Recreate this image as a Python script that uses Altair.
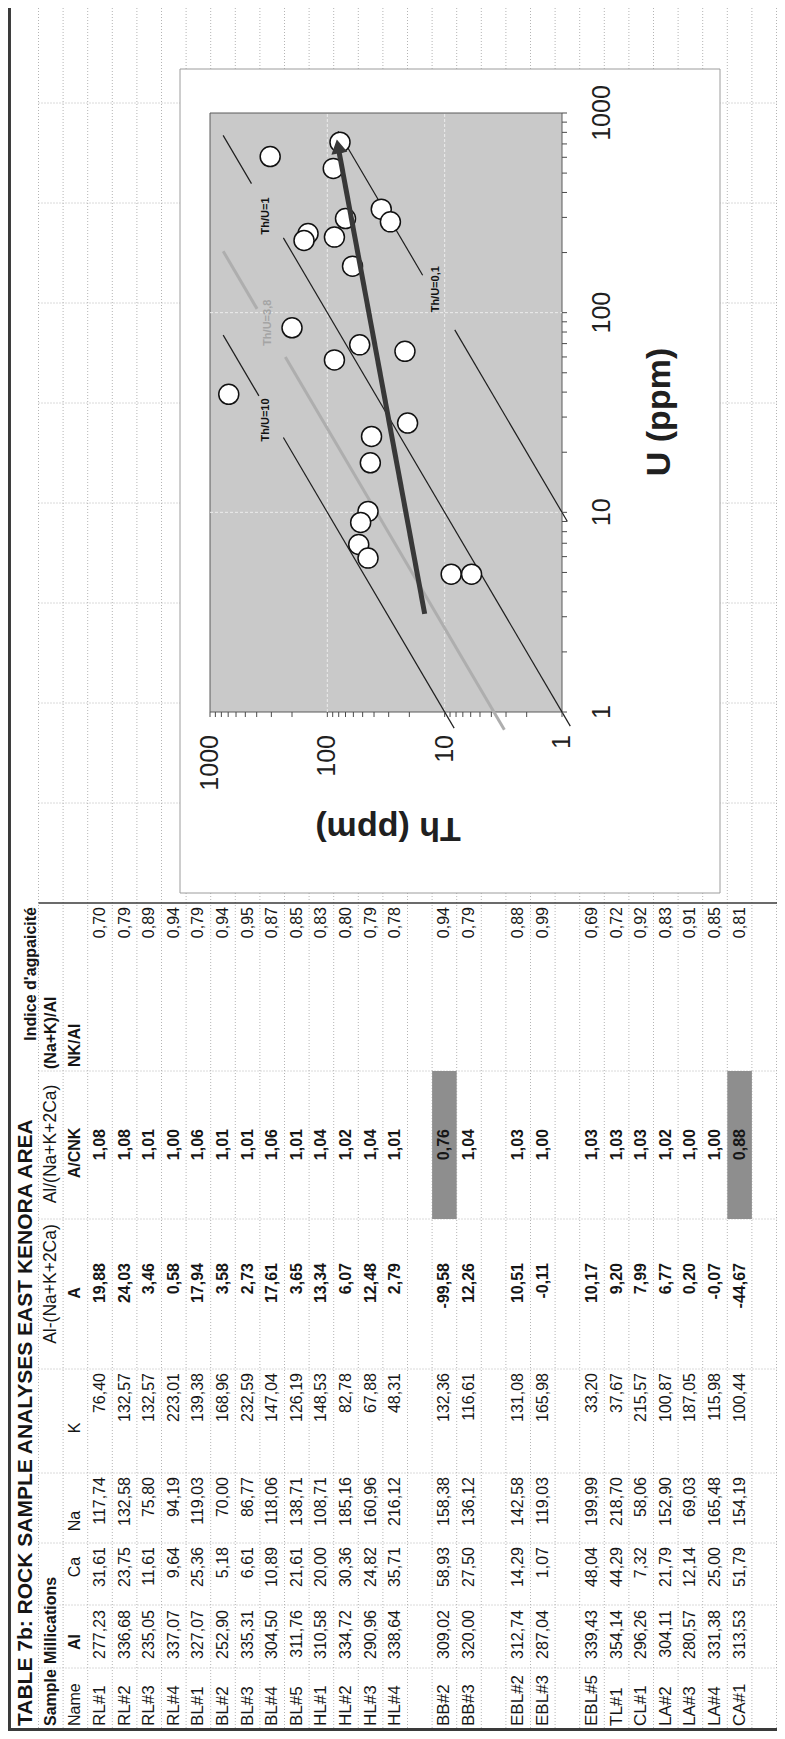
import altair as alt
import pandas as pd

# ---------------- data ----------------
table_title = "TABLE 7b: ROCK SAMPLE ANALYSES EAST KENORA AREA"
index_title = "Indice d'agpaicité"
header_top = ["Sample", "Millications", "Al-(Na+K+2Ca)", "Al/(Na+K+2Ca)", "(Na+K)/Al"]
header_sub = ["Name", "Al", "Ca", "Na", "K", "A", "A/CNK", "NK/Al"]

samples = ["RL#1", "RL#2", "RL#3", "RL#4", "BL#1", "BL#2", "BL#3", "BL#4", "BL#5",
           "HL#1", "HL#2", "HL#3", "HL#4", "", "BB#2", "BB#3", "", "EBL#2", "EBL#3", "",
           "EBL#5", "TL#1", "CL#1", "LA#2", "LA#3", "LA#4", "CA#1"]
al = [277.23, 336.68, 235.05, 337.07, 327.07, 252.90, 335.31, 304.50, 311.76,
      310.58, 334.72, 290.96, 338.64, None, 309.02, 320.00, None, 312.74, 287.04, None,
      339.43, 354.14, 296.26, 304.11, 280.57, 331.38, 313.53]
ca = [31.61, 23.75, 11.61, 9.64, 25.36, 5.18, 6.61, 10.89, 21.61,
      20.00, 30.36, 24.82, 35.71, None, 58.93, 27.50, None, 14.29, 1.07, None,
      48.04, 44.29, 7.32, 21.79, 12.14, 25.00, 51.79]
na = [117.74, 132.58, 75.80, 94.19, 119.03, 70.00, 86.77, 118.06, 138.71,
      108.71, 185.16, 160.96, 216.12, None, 158.38, 136.12, None, 142.58, 119.03, None,
      199.99, 218.70, 58.06, 152.90, 69.03, 165.48, 154.19]
k = [76.40, 132.57, 132.57, 223.01, 139.38, 168.96, 232.59, 147.04, 126.19,
     148.53, 82.78, 67.88, 48.31, None, 132.36, 116.61, None, 131.08, 165.98, None,
     33.20, 37.67, 215.57, 100.87, 187.05, 115.98, 100.44]
a_index = [19.88, 24.03, 3.46, 0.58, 17.94, 3.58, 2.73, 17.61, 3.65,
           13.34, 6.07, 12.48, 2.79, None, -99.58, 12.26, None, 10.51, -0.11, None,
           10.17, 9.20, 7.99, 6.77, 0.20, -0.07, -44.67]
a_cnk = [1.08, 1.08, 1.01, 1.00, 1.06, 1.01, 1.01, 1.06, 1.01,
         1.04, 1.02, 1.04, 1.01, None, 0.76, 1.04, None, 1.03, 1.00, None,
         1.03, 1.03, 1.03, 1.02, 1.00, 1.00, 0.88]
nk_al = [0.70, 0.79, 0.89, 0.94, 0.79, 0.94, 0.95, 0.87, 0.85,
         0.83, 0.80, 0.79, 0.78, None, 0.94, 0.79, None, 0.88, 0.99, None,
         0.69, 0.72, 0.92, 0.83, 0.91, 0.85, 0.81]

# Th-U diagram
th_ppm = [307, 78, 89, 34.7, 29, 70, 146, 158, 87, 61, 200, 53, 21.8, 87, 692,
          20.7, 42, 43, 45, 52, 54, 45, 8.8, 5.9]
u_ppm = [605, 714, 528, 330, 285, 296, 249, 230, 239, 171, 84, 69, 64, 58, 39,
         28, 24, 17.7, 10.1, 8.9, 6.9, 5.9, 4.9, 4.9]
arrow_th = [14.8, 81]
arrow_u = [3.1, 680]
ratio_seg = [10, 10, 3.8, 3.8, 1, 1, 0.1, 0.1]
ratio_th_from = [772, 237, 772, 228, 773, 237, 81, 8.2]
ratio_th_to = [383, 8.3, 397, 3.1, 443, 0.85, 15.4, 0.9]
ratio_labels = ["Th/U=10", "Th/U=3,8", "Th/U=1", "Th/U=0,1"]
ratio_label_th = [330, 318, 330, 11.9]
ratio_label_u = [29, 89, 305, 131]
decades = [1, 10, 100, 1000]
decade_labels = ["1", "10", "100", "1000"]
x_title = "Th (ppm)"
y_title = "U (ppm)"

# ---------------- layout (page pixels) ----------------
W, H = 769, 1723
OFF = 8
ROW0, PITCH = 100.0, 24.6
PX0, PX1, PY0, PY1 = 210, 562, 113, 712
SANS = "Liberation Sans, Arial, sans-serif"

row_scale = alt.Scale(domain=[(OFF - ROW0) / PITCH, (OFF + W - ROW0) / PITCH], range=[0, W])
py_scale = alt.Scale(domain=[OFF, OFF + H], range=[0, H])
th_scale = alt.Scale(type="log", domain=[1, 1000], range=[PX1 - OFF, PX0 - OFF])
u_scale = alt.Scale(type="log", domain=[1, 1000], range=[PY1 - OFF, PY0 - OFF])

R_END = (OFF + W - ROW0) / PITCH
R_START = (OFF - ROW0) / PITCH


def RX(f):
    return alt.X(f, type="quantitative", scale=row_scale, axis=None)


def PY(f):
    return alt.Y(f, type="quantitative", scale=py_scale, axis=None)


def TX(f):
    return alt.X(f, type="quantitative", scale=th_scale, axis=None)


def UY(f):
    return alt.Y(f, type="quantitative", scale=u_scale, axis=None)


# ---------------- spreadsheet grid ----------------
row_bounds = pd.DataFrame({"r": [-2.5 + i for i in range(31)], "y0": OFF, "y1": OFF + H})
col_bounds = pd.DataFrame({"py": [103, 203, 303, 403, 503, 603, 703, 803, 1071, 1219,
                                  1369, 1473, 1543, 1605, 1668],
                           "r0": -2.5, "r1": R_END})
grid_v = alt.Chart(row_bounds).mark_rule(color="#b4b4b4", strokeDash=[1, 2], strokeWidth=1).encode(
    x=RX("r"), y=PY("y0"), y2="y1")
grid_h = alt.Chart(col_bounds).mark_rule(color="#b4b4b4", strokeDash=[1, 2], strokeWidth=1).encode(
    y=PY("py"), x=RX("r0"), x2="r1")

borders = pd.DataFrame({"kind": ["left", "bottom", "top"],
                        "r0": [R_START + 0.06, R_START, -2.5],
                        "r1": [R_START + 0.06, R_END, R_END],
                        "p0": [OFF, 1729.5, 903],
                        "p1": [OFF + H, 1729.5, 903],
                        "w": [3, 3, 1.5]})
border_rules = alt.Chart(borders).mark_rule(color="#3a3a3a").encode(
    x=RX("r0"), x2="r1", y=PY("p0"), y2="p1",
    strokeWidth=alt.StrokeWidth("w:Q", scale=None, legend=None))

# highlighted cells (A/CNK < 1)
hl = pd.DataFrame([{"r0": i - 0.5, "r1": i + 0.5, "p0": 1071, "p1": 1219}
                   for i, v in enumerate(a_cnk) if v is not None and v < 1])
highlight = alt.Chart(hl).mark_rect(color="#8e8e8e").encode(
    x=RX("r0"), x2="r1", y=PY("p0"), y2="p1")


# ---------------- table text ----------------
def fmt(v):
    return f"{v:.2f}".replace(".", ",")


rows = []


def add(r, py, t, sty):
    rows.append({"r": r, "py": py, "t": t, "sty": sty})


add(-3, 1726, table_title, "title")
add(-2.8, 907, index_title, "b_right")
top_pos = [(1726, "b_left"), (1664, "b_left"), (1284, "head"), (1144, "head"), (1069, "b_left")]
for t, (p, s) in zip(header_top, top_pos):
    add(-2, p, t, s)
sub_pos = [(1726, "left"), (1642, "b_center"), (1567, "center"), (1521, "center"), (1428, "center"),
           (1293, "b_center"), (1153, "b_center"), (1067, "b_left")]
for t, (p, s) in zip(header_sub, sub_pos):
    add(-1, p, t, s)

value_cols = [(al, 1610, "right"), (ca, 1547, "right"), (na, 1477, "right"), (k, 1373, "right"),
              (a_index, 1263, "b_right"), (a_cnk, 1129, "b_right"), (nk_al, 907, "right")]
for i, name in enumerate(samples):
    if name:
        add(i, 1726, name, "name")
    for vals, p, s in value_cols:
        if vals[i] is not None:
            add(i, p, fmt(vals[i]), s)

tdf = pd.DataFrame(rows)
styles = {
    "title": dict(align="left", fontWeight="bold", fontSize=21),
    "b_left": dict(align="left", fontWeight="bold", fontSize=16),
    "left": dict(align="left", fontWeight="normal", fontSize=16),
    "name": dict(align="left", fontWeight="normal", fontSize=17),
    "head": dict(align="center", fontWeight="normal", fontSize=17.5),
    "center": dict(align="center", fontWeight="normal", fontSize=16),
    "b_center": dict(align="center", fontWeight="bold", fontSize=16),
    "right": dict(align="right", fontWeight="normal", fontSize=16),
    "b_right": dict(align="right", fontWeight="bold", fontSize=16),
}
text_layers = []
for sty, kw in styles.items():
    text_layers.append(
        alt.Chart(tdf[tdf["sty"] == sty]).mark_text(
            angle=270, baseline="middle", font=SANS, color="#161616", **kw
        ).encode(x=RX("r"), y=PY("py"), text="t:N")
    )

# ---------------- chart box ----------------
one = pd.DataFrame({"a": [0]})
box = alt.Chart(one).mark_rect(fill="white", stroke="#9c9c9c", strokeWidth=1).encode(
    x=alt.value(180 - OFF), x2=alt.value(720 - OFF), y=alt.value(69 - OFF), y2=alt.value(893 - OFF))

plot_bg = alt.Chart(pd.DataFrame({"t0": [1000], "t1": [1], "u0": [1], "u1": [1000]})).mark_rect(
    fill="#c9c9c9", stroke="#5a5a5a", strokeWidth=1).encode(
    x=TX("t0"), x2="t1", y=UY("u0"), y2="u1")

gv = pd.DataFrame({"th": [10, 100], "u0": 1, "u1": 1000})
gh = pd.DataFrame({"u": [10, 100], "t0": 1000, "t1": 1})
grid_in_v = alt.Chart(gv).mark_rule(color="#ececec", strokeDash=[3, 2]).encode(
    x=TX("th"), y=UY("u0"), y2="u1")
grid_in_h = alt.Chart(gh).mark_rule(color="#ececec", strokeDash=[3, 2]).encode(
    y=UY("u"), x=TX("t0"), x2="t1")

lrows = []
for s, (R, a, b) in enumerate(zip(ratio_seg, ratio_th_from, ratio_th_to)):
    for j, t in enumerate([a, b]):
        lrows.append({"seg": s, "i": j, "th": t, "u": t / R, "gray": R == 3.8})
ldf = pd.DataFrame(lrows)
black_lines = alt.Chart(ldf[~ldf["gray"]]).mark_line(color="#1e1e1e", strokeWidth=1.2).encode(
    x=TX("th"), y=UY("u"), detail="seg:N", order="i:Q")
gray_lines = alt.Chart(ldf[ldf["gray"]]).mark_line(color="#aeaeae", strokeWidth=3).encode(
    x=TX("th"), y=UY("u"), detail="seg:N", order="i:Q")

lab = pd.DataFrame({"t": ratio_labels, "th": ratio_label_th, "u": ratio_label_u,
                    "gray": [False, True, False, False]})
labels_black = alt.Chart(lab[~lab["gray"]]).mark_text(
    angle=270, font=SANS, fontWeight="bold", fontSize=11, color="#111").encode(
    x=TX("th"), y=UY("u"), text="t:N")
labels_gray = alt.Chart(lab[lab["gray"]]).mark_text(
    angle=270, font=SANS, fontWeight="bold", fontSize=11, color="#a4a4a4").encode(
    x=TX("th"), y=UY("u"), text="t:N")

# ---------------- axes drawn with the same scales ----------------
tick_vals = pd.DataFrame({"v": [m * 10 ** e for e in range(3) for m in range(1, 10)] + [1000]})
th_ticks = alt.Chart(tick_vals).mark_rule(color="#4a4a4a").encode(
    x=TX("v"), y=alt.value(PY1 - OFF), y2=alt.value(PY1 - OFF + 5))
u_ticks = alt.Chart(tick_vals).mark_rule(color="#4a4a4a").encode(
    y=UY("v"), x=alt.value(PX1 - OFF), x2=alt.value(PX1 - OFF + 5))
dl = pd.DataFrame({"v": decades, "t": decade_labels})
th_labels = alt.Chart(dl).mark_text(angle=270, align="right", baseline="middle", font=SANS,
                                    fontSize=25, color="#202020").encode(
    x=TX("v"), y=alt.value(735 - OFF), text="t:N")
u_labels = alt.Chart(dl).mark_text(angle=270, align="center", baseline="middle", font=SANS,
                                   fontSize=25, color="#202020").encode(
    y=UY("v"), x=alt.value(602 - OFF), text="t:N")
th_title = alt.Chart(pd.DataFrame({"t": [x_title]})).mark_text(
    angle=180, align="center", baseline="middle", font=SANS,
    fontSize=34, fontWeight="bold", color="#202020").encode(
    x=alt.value(388 - OFF), y=alt.value(828 - OFF), text="t:N")
u_title = alt.Chart(pd.DataFrame({"t": [y_title]})).mark_text(
    angle=270, align="center", baseline="middle", font=SANS,
    fontSize=34, fontWeight="bold", color="#202020").encode(
    x=alt.value(660 - OFF), y=alt.value(412 - OFF), text="t:N")

pts = pd.DataFrame({"th": th_ppm, "u": u_ppm})
points = alt.Chart(pts).mark_point(shape="circle", filled=True, fill="white", stroke="#111",
                                   strokeWidth=1.5, size=400, opacity=1).encode(
    x=TX("th"), y=UY("u"))

adf = pd.DataFrame({"th": arrow_th, "u": arrow_u, "i": [0, 1]})
arrow_line = alt.Chart(adf).mark_line(color="#383838", strokeWidth=5).encode(
    x=TX("th"), y=UY("u"), order="i:Q")
arrow_head = alt.Chart(adf.iloc[[1]]).mark_point(shape="triangle-up", filled=True, size=260,
                                                 angle=349.5, color="#383838", opacity=1).encode(
    x=TX("th"), y=UY("u"))

chart = alt.layer(
    grid_v, grid_h, highlight, border_rules, *text_layers,
    box, plot_bg, grid_in_v, grid_in_h, gray_lines, black_lines,
    labels_black, labels_gray, th_ticks, u_ticks, th_labels, u_labels, th_title, u_title,
    points, arrow_line, arrow_head
).resolve_scale(x="independent", y="independent").properties(
    width=W, height=H, padding=0, autosize=alt.AutoSizeParams(type="none"),
    background="white"
).configure_view(stroke=None)

chart.save("out.html", embed_options={"renderer": "svg", "actions": False})
